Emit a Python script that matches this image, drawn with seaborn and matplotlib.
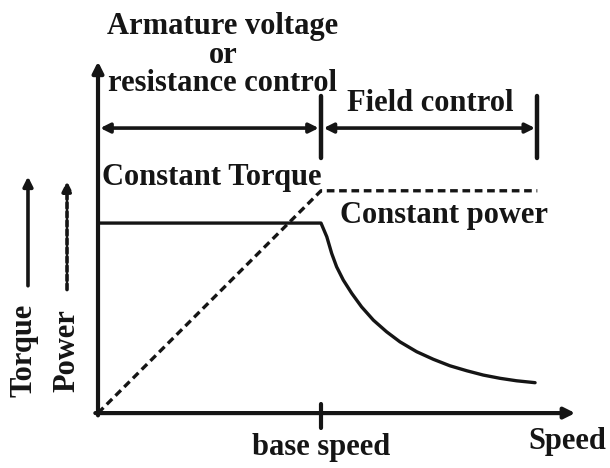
import numpy as np
import pandas as pd
import matplotlib
matplotlib.use('Agg')
import matplotlib.pyplot as plt
import seaborn as sns

# speed in per-unit of base speed, torque / power in relative units
base_speed = 1.0
max_speed = 1.97

speed_torque = [0.0, 1.0, 1.026, 1.048, 1.070, 1.100, 1.138, 1.182, 1.235, 1.294,
                1.354, 1.429, 1.504, 1.578, 1.653, 1.728, 1.803, 1.877, 1.960]
torque = [1.0, 1.0, 0.928, 0.840, 0.770, 0.700, 0.630, 0.559, 0.489, 0.428,
          0.375, 0.323, 0.283, 0.249, 0.223, 0.200, 0.183, 0.170, 0.160]

speed_power = [0.0, 1.0, 1.97]
power = [0.0, 1.17, 1.17]

sns.set_style('white')
plt.rcParams['font.family'] = ['Liberation Serif', 'DejaVu Serif']
plt.rcParams['font.weight'] = 'bold'

ink = '#151515'
fs = 22

fig = plt.figure(figsize=(6.1, 4.68), dpi=100)
ax = fig.add_axes([0, 0, 1, 1])
ax.set_xlim(-0.4395, 2.296)
ax.set_ylim(-0.289, 2.174)
ax.axis('off')

df_t = pd.DataFrame({'speed': speed_torque, 'value': torque})
df_p = pd.DataFrame({'speed': speed_power, 'value': power})
sns.lineplot(data=df_t, x='speed', y='value', ax=ax, color=ink, lw=2.4,
             sort=False, estimator=None)
sns.lineplot(data=df_p, x='speed', y='value', ax=ax, color=ink, lw=2.4,
             sort=False, estimator=None, linestyle=(0, (2.3, 1.4)))

# axes with arrows
arrow_kw = dict(arrowstyle='-|>', color=ink, lw=3.0, mutation_scale=16,
                shrinkA=0, shrinkB=0)
ax.annotate('', xy=(2.14, 0), xytext=(-0.012, 0), arrowprops=arrow_kw)
ax.annotate('', xy=(0, 1.85), xytext=(0, -0.012), arrowprops=arrow_kw)

# base speed tick
ax.plot([base_speed, base_speed], [0.05, -0.08], color=ink, lw=3.0)

# region bars and double arrows
bar_lo, bar_hi, arr_y = 1.34, 1.67, 1.50
for xb in [base_speed, max_speed]:
    ax.plot([xb, xb], [bar_lo, bar_hi], color=ink, lw=3.2)
dbl = dict(arrowstyle='<|-|>', color=ink, lw=2.6, mutation_scale=14,
           shrinkA=0, shrinkB=0)
ax.annotate('', xy=(0.01, arr_y), xytext=(base_speed - 0.01, arr_y), arrowprops=dbl)
ax.annotate('', xy=(base_speed + 0.012, arr_y), xytext=(max_speed - 0.01, arr_y), arrowprops=dbl)

# left legend arrows
ax.annotate('', xy=(-0.314, 1.245), xytext=(-0.314, 0.67),
            arrowprops=dict(arrowstyle='-|>', color=ink, lw=2.6, mutation_scale=14,
                            shrinkA=0, shrinkB=0))
ax.annotate('', xy=(-0.139, 1.22), xytext=(-0.139, 0.65),
            arrowprops=dict(arrowstyle='-|>', color=ink, lw=2.6, mutation_scale=14,
                            shrinkA=0, shrinkB=0, linestyle=(0, (1.6, 0.9))))

txt = dict(color=ink, fontsize=fs, fontweight='bold')
ax.text(0.56, 2.11, 'Armature voltage\nor\nresistance control', ha='center',
        va='top', multialignment='center', linespacing=0.97, **txt)
ax.text(1.49, 1.63, 'Field control', ha='center', va='center', **txt)
ax.text(0.02, 1.24, 'Constant Torque', ha='left', va='center', **txt)
ax.text(1.085, 1.04, 'Constant power', ha='left', va='center', **txt)
ax.text(base_speed, -0.18, 'base speed', ha='center', va='center', **txt)
ax.text(2.28, -0.15, 'Speed', ha='right', va='center', **txt)
ax.text(-0.33, 0.33, 'Torque', ha='center', va='center', rotation=90, **txt)
ax.text(-0.14, 0.33, 'Power', ha='center', va='center', rotation=90, **txt)

fig.savefig('out.png', dpi=100)
